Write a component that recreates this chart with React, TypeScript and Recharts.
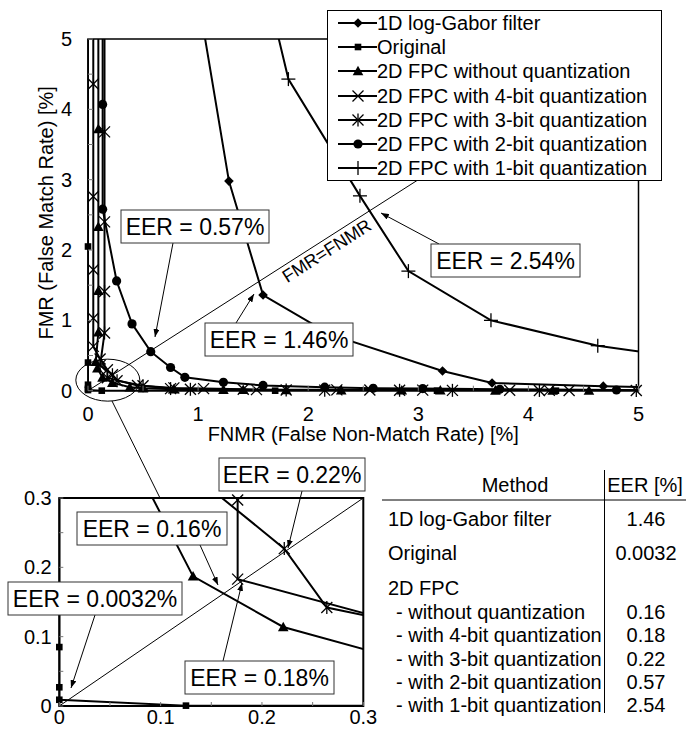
import React from 'react';
import {
  ComposedChart,
  Line,
  XAxis,
  YAxis,
  ReferenceLine,
  ReferenceArea,
  ReferenceDot,
  Legend,
} from 'recharts';

const FONT = '"Liberation Sans", Arial, Helvetica, sans-serif';

// ---------------- data (x = FNMR [%], y = FMR [%]) ----------------
const seriesNames = [
  '1D log-Gabor filter',
  'Original',
  '2D FPC without quantization',
  '2D FPC with 4-bit quantization',
  '2D FPC with 3-bit quantization',
  '2D FPC with 2-bit quantization',
  '2D FPC with 1-bit quantization',
];

const logGaborFNMR = [1.0, 1.28, 1.59, 2.2, 3.22, 3.67, 4.68, 5.4];
const logGaborFMR = [5.6, 2.98, 1.36, 0.8, 0.28, 0.11, 0.065, 0.04];

const originalFNMR = [0, 0, 0, 0, 0, 0, 0.125, 1.7, 3.17, 4.25, 5.5];
const originalFMR = [8, 2.05, 0.4, 0.085, 0.027, 0.009, 0.0005, 0, 0, 0, 0];

const noQuantFNMR = [0.094, 0.094, 0.094, 0.094, 0.094, 0.07, 0.085, 0.132, 0.221, 0.38, 0.5, 0.78, 1.23, 1.41, 1.8, 2.3, 2.85, 3.2, 3.7, 4.22, 4.55, 5.5];
const noQuantFMR = [8, 3.72, 2.33, 1.42, 0.83, 0.41, 0.32, 0.187, 0.114, 0.05, 0.035, 0.022, 0.015, 0.012, 0.01, 0.008, 0.006, 0.005, 0.004, 0.003, 0.002, 0];

const bit4FNMR = [0.048, 0.048, 0.048, 0.048, 0.048, 0.048, 0.11, 0.176, 0.176, 0.45, 0.78, 1.05, 1.41, 1.53, 2.26, 2.56, 3.04, 3.83, 4.19, 4.37, 5.5];
const bit4FMR = [8, 4.36, 2.76, 1.72, 1.03, 0.63, 0.45, 0.297, 0.183, 0.075, 0.04, 0.03, 0.02, 0.015, 0.012, 0.01, 0.008, 0.006, 0.005, 0.004, 0];

const bit3FNMR = [0.15, 0.15, 0.15, 0.15, 0.15, 0.11, 0.222, 0.264, 0.5, 0.75, 0.93, 1.8, 2.15, 2.83, 3.31, 4.1, 4.98, 5.5];
const bit3FMR = [8, 3.68, 2.4, 1.41, 0.82, 0.36, 0.227, 0.142, 0.07, 0.03, 0.02, 0.01, 0.008, 0.006, 0.005, 0.004, 0.003, 0];

const bit2FNMR = [0.133, 0.133, 0.133, 0.26, 0.4, 0.57, 0.75, 0.88, 1.23, 1.59, 2.15, 2.59, 3.04, 3.74, 4.8, 5.5];
const bit2FMR = [8, 4.07, 2.58, 1.56, 0.95, 0.555, 0.33, 0.19, 0.12, 0.075, 0.05, 0.035, 0.03, 0.02, 0.01, 0];

const bit1FNMR = [1.55, 1.82, 2.47, 2.91, 3.66, 4.63, 5.5];
const bit1FMR = [6.2, 4.43, 2.77, 1.7, 1.0, 0.64, 0.45];

const mainTicks = [0, 0.5, 1, 1.5, 2, 2.5, 3, 3.5, 4, 4.5, 5];
const insetTicks = [0, 0.05, 0.1, 0.15, 0.2, 0.25, 0.3];

const tableHeader = ['Method', 'EER [%]'];
const tableMethods = ['1D log-Gabor filter', 'Original', '2D FPC', '- without quantization', '- with 4-bit quantization', '- with 3-bit quantization', '- with 2-bit quantization', '- with 1-bit quantization'];
const tableEER = ['1.46', '0.0032', '', '0.16', '0.18', '0.22', '0.57', '2.54'];

// ---------------- series config ----------------
type Kind = 'diamond' | 'square' | 'triangle' | 'cross' | 'asterisk' | 'circle' | 'plus';
const zip = (xs: number[], ys: number[]) => xs.map((x, i) => ({ x, y: ys[i] }));

const SERIES: { name: string; kind: Kind; data: { x: number; y: number }[] }[] = [
  { name: seriesNames[0], kind: 'diamond', data: zip(logGaborFNMR, logGaborFMR) },
  { name: seriesNames[1], kind: 'square', data: zip(originalFNMR, originalFMR) },
  { name: seriesNames[2], kind: 'triangle', data: zip(noQuantFNMR, noQuantFMR) },
  { name: seriesNames[3], kind: 'cross', data: zip(bit4FNMR, bit4FMR) },
  { name: seriesNames[4], kind: 'asterisk', data: zip(bit3FNMR, bit3FMR) },
  { name: seriesNames[5], kind: 'circle', data: zip(bit2FNMR, bit2FMR) },
  { name: seriesNames[6], kind: 'plus', data: zip(bit1FNMR, bit1FMR) },
];

function MarkerShape({ kind, cx, cy }: { kind: Kind; cx: number; cy: number }) {
  if (cx == null || cy == null || isNaN(cx) || isNaN(cy)) return <g />;
  const sw = 1.3;
  switch (kind) {
    case 'diamond': {
      const s = 4.8;
      return <polygon points={`${cx},${cy - s} ${cx + s},${cy} ${cx},${cy + s} ${cx - s},${cy}`} fill="#000" />;
    }
    case 'square': {
      const s = 3.3;
      return <rect x={cx - s} y={cy - s} width={2 * s} height={2 * s} fill="#000" />;
    }
    case 'triangle': {
      const s = 5.3;
      return <polygon points={`${cx},${cy - s} ${cx + s},${cy + s * 0.8} ${cx - s},${cy + s * 0.8}`} fill="#000" />;
    }
    case 'cross': {
      const s = 5.5;
      return (
        <g stroke="#000" strokeWidth={sw}>
          <line x1={cx - s} y1={cy - s} x2={cx + s} y2={cy + s} />
          <line x1={cx - s} y1={cy + s} x2={cx + s} y2={cy - s} />
        </g>
      );
    }
    case 'asterisk': {
      const s = 5.5;
      return (
        <g stroke="#000" strokeWidth={sw}>
          <line x1={cx - s} y1={cy - s} x2={cx + s} y2={cy + s} />
          <line x1={cx - s} y1={cy + s} x2={cx + s} y2={cy - s} />
          <line x1={cx} y1={cy - s - 1} x2={cx} y2={cy + s + 1} />
        </g>
      );
    }
    case 'circle':
      return <circle cx={cx} cy={cy} r={4.6} fill="#000" />;
    case 'plus': {
      const s = 7;
      return (
        <g stroke="#000" strokeWidth={sw}>
          <line x1={cx - s} y1={cy} x2={cx + s} y2={cy} />
          <line x1={cx} y1={cy - s} x2={cx} y2={cy + s} />
        </g>
      );
    }
  }
  return <g />;
}

// ---------------- ticks ----------------
const makeXTick = (tickSize: number, tickMargin: number, isMajor: (v: number) => boolean, fmt: (v: number) => string, len: number) =>
  (props: any) => {
    const { x, y, payload } = props;
    const v = payload.value as number;
    const ay = y - tickSize - tickMargin;
    return (
      <g>
        <line x1={x} x2={x} y1={ay} y2={ay - len} stroke="#777" strokeWidth={1} />
        {isMajor(v) && (
          <text x={x} y={y} dy="0.71em" textAnchor="middle" fontSize={20} fontFamily={FONT} fill="#000">
            {fmt(v)}
          </text>
        )}
      </g>
    );
  };

const makeYTick = (tickSize: number, tickMargin: number, isMajor: (v: number) => boolean, fmt: (v: number) => string, len: number) =>
  (props: any) => {
    const { x, y, payload } = props;
    const v = payload.value as number;
    const ax = x + tickSize + tickMargin;
    return (
      <g>
        <line x1={ax} x2={ax + len} y1={y} y2={y} stroke="#777" strokeWidth={1} />
        {isMajor(v) && (
          <text x={x} y={y} dy="0.355em" textAnchor="end" fontSize={20} fontFamily={FONT} fill="#000">
            {fmt(v)}
          </text>
        )}
      </g>
    );
  };

const isInt = (v: number) => Math.abs(v - Math.round(v)) < 1e-9;
const isTenth = (v: number) => Math.abs(v * 10 - Math.round(v * 10)) < 1e-9;
const fmtInt = (v: number) => String(v);
const fmtTenth = (v: number) => (v === 0 ? '0' : v.toFixed(1));

const mainXTick = makeXTick(6, 10, isInt, fmtInt, 5);
const mainYTick = makeYTick(6, 10, isInt, fmtInt, 5);
const insetXTick = makeXTick(0, 4, isTenth, fmtTenth, 4);
const insetYTick = makeYTick(0, 7.6, isTenth, fmtTenth, 4);

// ---------------- legend ----------------
const LegendBox = () => (
  <div
    style={{
      width: 335,
      height: 171,
      boxSizing: 'border-box',
      border: '1px solid #000',
      background: '#fff',
    }}
  >
    {SERIES.map((s) => (
      <div key={s.name} style={{ display: 'flex', alignItems: 'center', height: 24.2 }}>
        <svg width={49} height={24} style={{ flex: 'none', display: 'block' }}>
          <line x1={10} x2={49} y1={12} y2={12} stroke="#000" strokeWidth={2} />
          <MarkerShape kind={s.kind} cx={30} cy={12} />
        </svg>
        <span style={{ fontFamily: FONT, fontSize: 20, lineHeight: '24px', color: '#000', whiteSpace: 'nowrap' }}>
          {s.name}
        </span>
      </div>
    ))}
  </div>
);

// ---------------- series rendering ----------------
const renderSeries = (prefix: string) => [
  ...SERIES.map((s) => (
    <Line
      key={`${prefix}-line-${s.name}`}
      data={s.data}
      dataKey="y"
      type="linear"
      stroke="#000"
      strokeWidth={2}
      dot={false}
      activeDot={false}
      isAnimationActive={false}
      legendType="none"
    />
  )),
  ...SERIES.flatMap((s, si) =>
    s.data.map((p, i) => (
      <ReferenceDot
        key={`${prefix}-m-${si}-${i}`}
        x={p.x}
        y={p.y}
        r={0}
        ifOverflow="discard"
        shape={(props: any) => <MarkerShape kind={s.kind} cx={props.cx} cy={props.cy} />}
      />
    ))
  ),
];

const YTitle = (props: any) => {
  const vb = props.viewBox || {};
  const cy = (vb.y ?? 39) + (vb.height ?? 352) / 2 - 2;
  return (
    <text
      transform={`translate(53, ${cy}) rotate(-90)`}
      textAnchor="middle"
      fontSize={20}
      fontFamily={FONT}
      fill="#000"
    >
      FMR (False Match Rate) [%]
    </text>
  );
};

// ---------------- annotations (pixel layout) ----------------
const eerLabels = tableEER.filter((v) => v !== '');
// order in eerLabels: 1.46, 0.0032, 0.16, 0.18, 0.22, 0.57, 2.54
const ANNOTATIONS = [
  { label: `EER = ${eerLabels[5]}%`, box: [121, 210, 148, 33], from: [173, 243], to: [155, 337] },
  { label: `EER = ${eerLabels[0]}%`, box: [205, 323, 148, 33], from: [236, 323], to: [254, 294] },
  { label: `EER = ${eerLabels[6]}%`, box: [431, 244, 149, 33], from: [439, 244], to: [381, 213] },
  { label: `EER = ${eerLabels[4]}%`, box: [219, 458, 146, 33], from: [302, 491], to: [288, 548] },
  { label: `EER = ${eerLabels[2]}%`, box: [77, 512, 150, 33], from: [200, 545], to: [218, 585] },
  { label: `EER = ${eerLabels[1]}%`, box: [8, 582, 174, 33], from: [95, 615], to: [71, 688] },
  { label: `EER = ${eerLabels[3]}%`, box: [185, 661, 149, 33], from: [223, 661], to: [242, 583] },
];

const tableRowY = [518.5, 553, 588, 611.5, 635, 658.5, 681.5, 705];

export default function App() {
  return (
    <div style={{ position: 'absolute', left: 0, top: 0, width: 686, height: 729, background: '#fff' }}>
      {/* main chart */}
      <div style={{ position: 'absolute', left: 0, top: 0 }}>
        <ComposedChart width={686} height={450} margin={{ top: 39, right: 47.5, bottom: 3.3, left: 28 }}>
          <XAxis
            type="number"
            dataKey="x"
            domain={[0, 5]}
            allowDataOverflow
            ticks={mainTicks}
            interval={0}
            tickSize={6}
            tickMargin={10}
            tickLine={false}
            axisLine={{ stroke: '#000', strokeWidth: 1.5 }}
            height={56}
            tick={mainXTick}
            label={{
              value: 'FNMR (False Non-Match Rate) [%]',
              position: 'insideBottom',
              offset: 5.7,
              style: { fontSize: 20, fontFamily: FONT, fill: '#000' },
            }}
          />
          <YAxis
            type="number"
            domain={[0, 5]}
            allowDataOverflow
            ticks={mainTicks}
            interval={0}
            tickSize={6}
            tickMargin={10}
            tickLine={false}
            axisLine={{ stroke: '#000', strokeWidth: 1.5 }}
            width={60}
            tick={mainYTick}
            label={{ content: (p: any) => <YTitle {...p} /> }}
          />
          <ReferenceArea x1={0} x2={5} y1={0} y2={5} fill="none" fillOpacity={0} stroke="#000" strokeWidth={1.5} />
          <ReferenceLine segment={[{ x: 0, y: 0 }, { x: 5, y: 5 }]} stroke="#000" strokeWidth={1} />
          <ReferenceDot
            x={0.18}
            y={0.15}
            r={0}
            shape={(p: any) => <ellipse cx={p.cx} cy={p.cy} rx={32} ry={21} fill="none" stroke="#000" strokeWidth={1} />}
          />
          {renderSeries('main')}
          <Legend
            content={() => <LegendBox />}
            layout="horizontal"
            verticalAlign="middle"
            align="center"
            wrapperStyle={{ left: 327, top: 10, width: 335, height: 171 }}
          />
        </ComposedChart>
      </div>

      {/* inset chart */}
      <div style={{ position: 'absolute', left: 0, top: 470 }}>
        <ComposedChart width={380} height={259} margin={{ top: 28, right: 16.7, bottom: 0, left: 4.3 }}>
          <XAxis
            type="number"
            dataKey="x"
            domain={[0, 0.3]}
            allowDataOverflow
            ticks={insetTicks}
            interval={0}
            tickSize={0}
            tickMargin={4}
            tickLine={false}
            axisLine={{ stroke: '#000', strokeWidth: 1.5 }}
            height={23}
            tick={insetXTick}
          />
          <YAxis
            type="number"
            domain={[0, 0.3]}
            allowDataOverflow
            ticks={insetTicks}
            interval={0}
            tickSize={0}
            tickMargin={7.6}
            tickLine={false}
            axisLine={{ stroke: '#000', strokeWidth: 1.5 }}
            width={55}
            tick={insetYTick}
          />
          <ReferenceArea x1={0} x2={0.3} y1={0} y2={0.3} fill="none" fillOpacity={0} stroke="#000" strokeWidth={2} />
          <ReferenceLine segment={[{ x: 0, y: 0 }, { x: 0.3, y: 0.3 }]} stroke="#000" strokeWidth={1} />
          {renderSeries('inset')}
        </ComposedChart>
      </div>

      {/* annotations + table */}
      <svg
        width={686}
        height={729}
        style={{ position: 'absolute', left: 0, top: 0, pointerEvents: 'none' }}
      >
        <defs>
          <marker id="arrowHead" markerWidth="8" markerHeight="6" refX="8" refY="3" orient="auto" markerUnits="userSpaceOnUse">
            <path d="M0,0 L8,3 L0,6 z" fill="#000" />
          </marker>
        </defs>

        {/* zoom connector */}
        <line x1={112} y1={401} x2={160} y2={498} stroke="#000" strokeWidth={1} />

        {/* diagonal label */}
        <text
          transform="translate(330, 256) rotate(-32.5)"
          textAnchor="middle"
          fontSize={18}
          fontFamily={FONT}
          fill="#000"
        >
          FMR=FNMR
        </text>

        {ANNOTATIONS.map((a) => (
          <g key={a.label}>
            <line x1={a.from[0]} y1={a.from[1]} x2={a.to[0]} y2={a.to[1]} stroke="#000" strokeWidth={1} markerEnd="url(#arrowHead)" />
            <rect x={a.box[0]} y={a.box[1]} width={a.box[2]} height={a.box[3]} fill="#fff" stroke="#333" strokeWidth={1} />
            <text
              x={a.box[0] + a.box[2] / 2}
              y={a.box[1] + a.box[3] / 2}
              dy="0.355em"
              textAnchor="middle"
              fontSize={23}
              fontFamily={FONT}
              fill="#000"
            >
              {a.label}
            </text>
          </g>
        ))}

        {/* table */}
        <line x1={382} y1={500} x2={686} y2={500} stroke="#000" strokeWidth={1} />
        <line x1={604.5} y1={470} x2={604.5} y2={713} stroke="#000" strokeWidth={1} />
        <text x={515} y={485} dy="0.355em" textAnchor="middle" fontSize={20} fontFamily={FONT} fill="#000">
          {tableHeader[0]}
        </text>
        <text x={645} y={485} dy="0.355em" textAnchor="middle" fontSize={20} fontFamily={FONT} fill="#000">
          {tableHeader[1]}
        </text>
        {tableMethods.map((m, i) => (
          <g key={m}>
            <text
              x={m.startsWith('-') ? 396 : 388}
              y={tableRowY[i]}
              dy="0.355em"
              textAnchor="start"
              fontSize={20}
              fontFamily={FONT}
              fill="#000"
            >
              {m}
            </text>
            {tableEER[i] && (
              <text x={646} y={tableRowY[i]} dy="0.355em" textAnchor="middle" fontSize={20} fontFamily={FONT} fill="#000">
                {tableEER[i]}
              </text>
            )}
          </g>
        ))}
      </svg>
    </div>
  );
}
